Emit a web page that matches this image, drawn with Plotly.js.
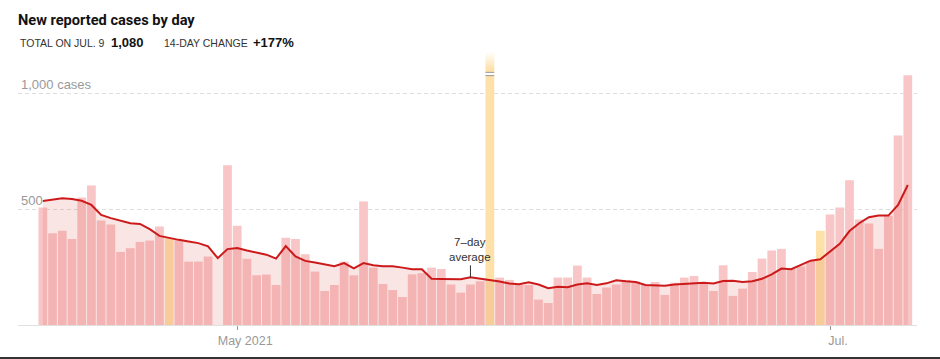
<!DOCTYPE html>
<html>
<head>
<meta charset="utf-8">
<script src="https://cdn.plot.ly/plotly-3.0.1.min.js"></script>
<style>
  html, body { margin: 0; padding: 0; background: #fff; }
  #chart { width: 940px; height: 357px; }
  #rule { width: 940px; height: 2px; background: #333; }
</style>
</head>
<body>
<div id="chart"></div>
<div id="rule"></div>
<script>
// ---------------- DATA ----------------
const dates = [
  '2021-04-11','2021-04-12','2021-04-13','2021-04-14','2021-04-15','2021-04-16','2021-04-17','2021-04-18','2021-04-19','2021-04-20',
  '2021-04-21','2021-04-22','2021-04-23','2021-04-24','2021-04-25','2021-04-26','2021-04-27','2021-04-28','2021-04-29','2021-04-30',
  '2021-05-01','2021-05-02','2021-05-03','2021-05-04','2021-05-05','2021-05-06','2021-05-07','2021-05-08','2021-05-09','2021-05-10',
  '2021-05-11','2021-05-12','2021-05-13','2021-05-14','2021-05-15','2021-05-16','2021-05-17','2021-05-18','2021-05-19','2021-05-20',
  '2021-05-21','2021-05-22','2021-05-23','2021-05-24','2021-05-25','2021-05-26','2021-05-27','2021-05-28','2021-05-29','2021-05-30',
  '2021-05-31','2021-06-01','2021-06-02','2021-06-03','2021-06-04','2021-06-05','2021-06-06','2021-06-07','2021-06-08','2021-06-09',
  '2021-06-10','2021-06-11','2021-06-12','2021-06-13','2021-06-14','2021-06-15','2021-06-16','2021-06-17','2021-06-18','2021-06-19',
  '2021-06-20','2021-06-21','2021-06-22','2021-06-23','2021-06-24','2021-06-25','2021-06-26','2021-06-27','2021-06-28','2021-06-29',
  '2021-06-30','2021-07-01','2021-07-02','2021-07-03','2021-07-04','2021-07-05','2021-07-06','2021-07-07','2021-07-08','2021-07-09'
];
const cases = [
  508, 397, 407, 372, 551, 603, 452, 434, 316, 332,
  359, 365, 426, 375, 368, 274, 274, 296, 0, 690,
  429, 286, 215, 218, 173, 377, 372, 306, 231, 147,
  173, 274, 215, 534, 248, 177, 151, 121, 219, 224,
  248, 242, 175, 140, 175, 189, 1650, 205, 195, 173,
  173, 110, 95, 205, 205, 257, 205, 134, 162, 175,
  195, 188, 173, 186, 130, 183, 205, 212, 180, 147,
  258, 126, 157, 229, 287, 322, 329, 242, 253, 278,
  407, 478, 508, 626, 456, 439, 329, 472, 819, 1080
];
const avg7 = [
  536, 541, 548, 545, 537, 519, 476, 462, 452, 440,
  437, 414, 385, 375, 368, 361, 354, 340, 289, 328,
  333, 322, 313, 304, 287, 341, 296, 277, 270, 261,
  254, 268, 245, 268, 258, 254, 254, 248, 241, 241,
  200, 199, 199, 198, 206, 200, 195, 188, 179, 176,
  185, 175, 159, 165, 163, 175, 180, 173, 180, 193,
  189, 186, 173, 170, 170, 175, 177, 182, 183, 179,
  190, 191, 186, 189, 200, 219, 244, 241, 261, 278,
  284, 317, 351, 406, 440, 466, 473, 473, 519, 605
];
const flaggedDates = ['2021-04-24', '2021-05-27', '2021-06-30'];
const xTickDates = ['2021-05-01', '2021-07-01'];
const xTickLabels = ['May 2021', 'Jul.'];
const yTickVals = [500, 1000];
const yTickLabels = ['500', '1,000 cases'];
const titleText = 'New reported cases by day';
const totalLabel = 'TOTAL ON JUL. 9';
const totalValue = '1,080';
const changeLabel = '14-DAY CHANGE';
const changeValue = '+177%';
const avgLabel = '7–day<br>average';
const avgLabelDate = '2021-05-25';

// ---------------- STYLE / LAYOUT ----------------
const W = 940, H = 357;
const M = {l: 18, r: 23, t: 52, b: 32};
const plotW = W - M.l - M.r, plotH = H - M.t - M.b;
const YMAX = 1180;
const px2paperX = px => (px - M.l) / plotW;
const py2paperY = py => (H - M.b - py) / plotH;

const DAY = 86400000;
const toMs = s => Date.parse(s + 'T00:00:00Z');
const fromMs = ms => new Date(ms).toISOString().replace('T', ' ').replace('Z', '');

const firstMs = toMs(dates[0]), lastMs = toMs(dates[dates.length - 1]);
const xRange = [fromMs(firstMs - 2.554 * DAY), fromMs(lastMs + 0.947 * DAY)];

const barColor = '#f8c6c6';
const flagColor = '#fde1a9';
const colors = dates.map(d => flaggedDates.includes(d) ? flagColor : barColor);

const FONT = 'Liberation Sans, Arial, sans-serif';

// spike (off-scale bar)
let spikeIdx = 0;
cases.forEach((v, i) => { if (v > cases[spikeIdx]) spikeIdx = i; });
const spikeMs = toMs(dates[spikeIdx]);
const spikeX0 = fromMs(spikeMs - 0.5 * DAY), spikeX1 = fromMs(spikeMs + 0.5 * DAY);
const brkX0 = fromMs(spikeMs - 0.45 * DAY), brkX1 = fromMs(spikeMs + 0.45 * DAY);

const traces = [
  {
    type: 'bar', x: dates, y: cases,
    marker: {color: colors, line: {width: 0}},
    hoverinfo: 'skip'
  },
  {
    type: 'scatter', mode: 'lines', x: dates, y: avg7,
    fill: 'tozeroy', fillcolor: 'rgba(221,82,82,0.15)',
    line: {width: 0}, hoverinfo: 'skip'
  },
  {
    type: 'scatter', mode: 'lines', x: dates, y: avg7,
    line: {color: '#cc1a1a', width: 2}, hoverinfo: 'skip'
  },
  {
    type: 'scatter', mode: 'lines',
    x: [spikeX0, spikeX1, spikeX1, spikeX0, spikeX0],
    y: [1105, 1105, YMAX, YMAX, 1105],
    fill: 'toself',
    fillgradient: {type: 'vertical', colorscale: [[0, 'rgba(255,255,255,0)'], [1, 'rgba(255,255,255,1)']]},
    line: {width: 0}, hoverinfo: 'skip'
  }
];

const annFont = {family: FONT, color: '#333', size: 10.5};
const layout = {
  width: W, height: H,
  margin: M,
  paper_bgcolor: '#fff', plot_bgcolor: '#fff',
  showlegend: false,
  bargap: 0.1,
  title: {
    text: '<b>' + titleText + '</b>',
    font: {family: 'Roboto, sans-serif', size: 14.6, color: '#121212'},
    x: 18 / W, xref: 'container', xanchor: 'left',
    y: 1 - 20 / H, yref: 'container', yanchor: 'middle'
  },
  xaxis: {
    type: 'date', range: xRange,
    tickmode: 'array', tickvals: xTickDates, ticktext: xTickLabels,
    ticks: 'outside', ticklen: 4, tickcolor: '#999', tickwidth: 1,
    ticklabelshift: 8,
    tickfont: {family: FONT, size: 12.5, color: '#999'},
    showgrid: false, zeroline: false,
    showline: true, linecolor: '#e0e0e0', linewidth: 1,
    fixedrange: true
  },
  yaxis: {
    range: [0, YMAX],
    tickmode: 'array', tickvals: yTickVals, ticktext: yTickLabels,
    ticklabelposition: 'inside top',
    tickfont: {family: FONT, size: 13, color: '#999'},
    ticks: '', showgrid: true, gridcolor: '#dddddd', gridwidth: 1, griddash: '4px,3px',
    zeroline: false, showline: false, fixedrange: true
  },
  shapes: [
    {type: 'rect', xref: 'x', yref: 'y', x0: brkX0, x1: brkX1, y0: 1078, y1: 1092,
     fillcolor: '#fff', line: {width: 0}},
    {type: 'line', xref: 'x', yref: 'y', x0: brkX0, x1: brkX1, y0: 1092, y1: 1092,
     line: {color: '#999', width: 1}},
    {type: 'line', xref: 'x', yref: 'y', x0: brkX0, x1: brkX1, y0: 1078, y1: 1078,
     line: {color: '#999', width: 1}}
  ],
  annotations: [
    {xref: 'paper', yref: 'paper', x: px2paperX(18), y: py2paperY(43), xanchor: 'left', yanchor: 'middle',
     text: totalLabel, showarrow: false, font: annFont},
    {xref: 'paper', yref: 'paper', x: px2paperX(109), y: py2paperY(43), xanchor: 'left', yanchor: 'middle',
     text: '<b>' + totalValue + '</b>', showarrow: false, font: {family: FONT, size: 13, color: '#121212'}},
    {xref: 'paper', yref: 'paper', x: px2paperX(162), y: py2paperY(43), xanchor: 'left', yanchor: 'middle',
     text: changeLabel, showarrow: false, font: annFont},
    {xref: 'paper', yref: 'paper', x: px2paperX(251), y: py2paperY(43), xanchor: 'left', yanchor: 'middle',
     text: '<b>' + changeValue + '</b>', showarrow: false, font: {family: FONT, size: 13, color: '#121212'}},
    {xref: 'x', yref: 'y', x: avgLabelDate, y: avg7[dates.indexOf(avgLabelDate)],
     text: avgLabel, showarrow: true, arrowhead: 0, arrowwidth: 1, arrowcolor: '#333',
     ax: 0, ay: -12, standoff: 0, yanchor: 'bottom',
     font: {family: FONT, size: 11.5, color: '#333'}}
  ]
};

Plotly.newPlot('chart', traces, layout, {staticPlot: true, displayModeBar: false});
</script>
</body>
</html>
